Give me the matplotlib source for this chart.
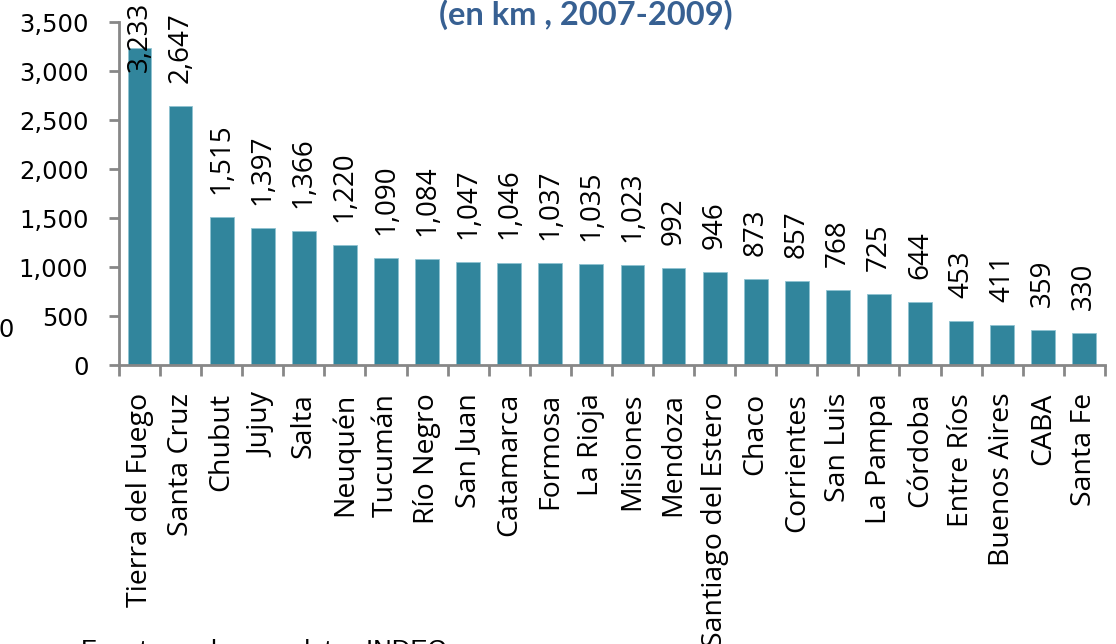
import matplotlib
matplotlib.use("Agg")
from matplotlib import pyplot as plt
from matplotlib.ticker import FuncFormatter, FixedLocator
import numpy as np

# DATA
provincias = ["Tierra del Fuego", "Santa Cruz", "Chubut", "Jujuy", "Salta", "Neuquén",
              "Tucumán", "Río Negro", "San Juan", "Catamarca", "Formosa", "La Rioja",
              "Misiones", "Mendoza", "Santiago del Estero", "Chaco", "Corrientes",
              "San Luis", "La Pampa", "Córdoba", "Entre Ríos", "Buenos Aires", "CABA",
              "Santa Fe"]
km = [3233, 2647, 1515, 1397, 1366, 1220, 1090, 1084, 1047, 1046, 1037, 1035,
      1023, 992, 946, 873, 857, 768, 725, 644, 453, 411, 359, 330]
y_ticks = [0, 500, 1000, 1500, 2000, 2500, 3000, 3500]

# STYLE
BAR_COLOR = "#31859C"
SPINE_COLOR = "#878787"
TITLE_COLOR = "#376092"
plt.rcParams["font.family"] = ["Open Sans", "DejaVu Sans"]

fig = plt.figure(figsize=(11.16, 6.44), dpi=100)
ax = fig.add_axes([0.1066, 0.4332, 0.8834, 0.5326])

x = np.arange(len(provincias))
ax.bar(x, km, width=0.58, color=BAR_COLOR, edgecolor="#8fc3d1", linewidth=0.6, zorder=2)

# value labels (Excel pushes the tallest one down so it stays near the plot area)
for xi, v in zip(x, km):
    y_lab = min(v + 235, 2990)
    ax.text(xi, y_lab, f"{v:,}", rotation=90, ha="center", va="bottom",
            fontsize=20, color="black", clip_on=False)

ax.set_xlim(-0.5, len(provincias) - 0.5)
ax.set_ylim(0, 3500)
ax.set_yticks(y_ticks)
ax.yaxis.set_major_formatter(FuncFormatter(lambda v, p: f"{int(v):,}"))
for lab in ax.get_yticklabels():
    lab.set_family(["DejaVu Sans"])

ax.set_xticks(x)
ax.set_xticklabels(provincias, rotation=90, ha="center", va="top")
ax.xaxis.set_minor_locator(FixedLocator(np.arange(-0.5, len(provincias), 1.0)))
ax.tick_params(axis="x", which="major", length=0, pad=20, labelsize=20.5)
ax.tick_params(axis="x", which="minor", length=8, width=2, color=SPINE_COLOR, direction="out")
ax.tick_params(axis="y", which="major", length=7, width=2, color=SPINE_COLOR,
               direction="out", labelsize=17.5, pad=15)

for side in ["top", "right"]:
    ax.spines[side].set_visible(False)
for side in ["left", "bottom"]:
    ax.spines[side].set_color(SPINE_COLOR)
    ax.spines[side].set_linewidth(2)

# cut-off title and footer, as in the original capture
fig.text(0.5246, 1 - 25 / 644, "(en km , 2007-2009)", ha="center", va="baseline",
         fontsize=23.5, fontweight="bold", color=TITLE_COLOR, family=["Lato", "DejaVu Sans"])
fig.text(0.073, 1 - 658 / 644, "Fuente: en base a datos INDEC", ha="left", va="baseline",
         fontsize=18.5, family=["Liberation Sans", "DejaVu Sans"], color="black")
fig.text(15 / 1116, 1 - 330 / 644, "500", ha="right", va="center", fontsize=17.5,
         family=["DejaVu Sans"])

fig.savefig("out.png", dpi=100)
